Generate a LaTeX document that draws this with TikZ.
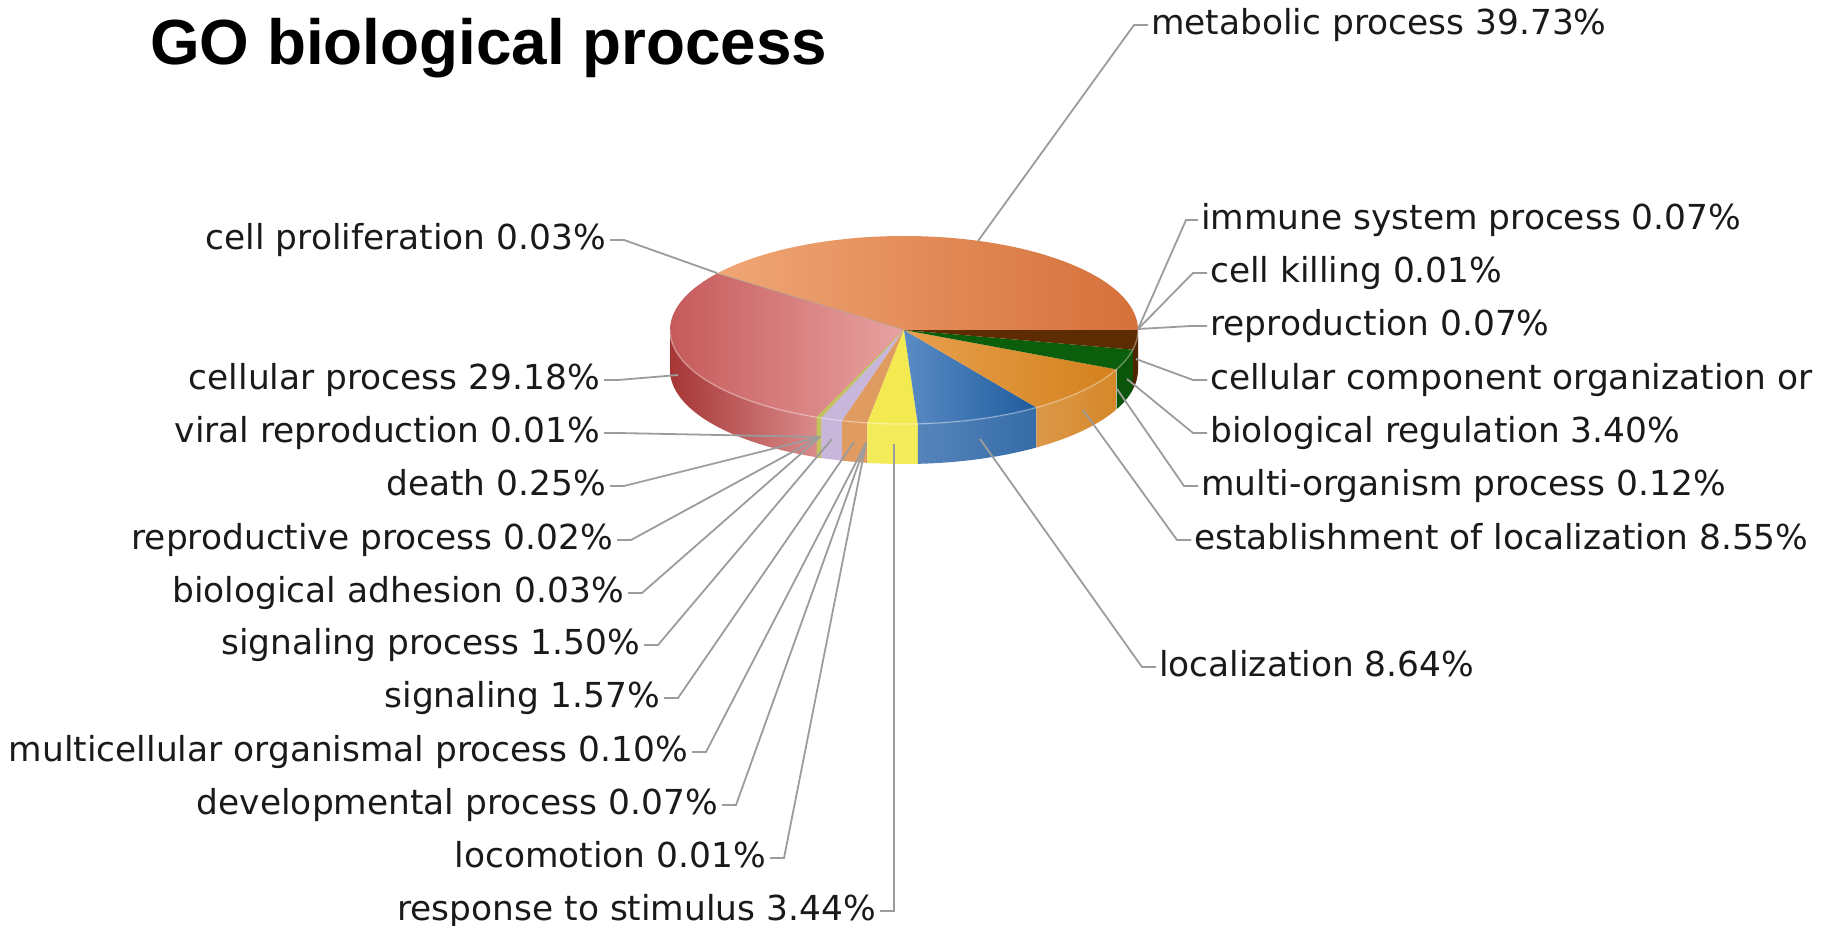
\documentclass[tikz,border=0pt]{standalone}
\usepackage{fontspec}
\setmainfont{DejaVu Sans}
\newfontfamily\titlefont{Liberation Sans}
\usepackage{tikz}
\usetikzlibrary{calc, positioning}
\definecolor{labeltext}{HTML}{1A1A1A}
\definecolor{leadergray}{HTML}{9C9C9C}
\definecolor{metaleft}{HTML}{F0A676}
\definecolor{metamid}{HTML}{F5B88C}
\definecolor{metaright}{HTML}{D5703A}
\definecolor{celltopl}{HTML}{C45656}
\definecolor{celltopr}{HTML}{E9A2A2}
\definecolor{cellsidel}{HTML}{A63636}
\definecolor{cellsider}{HTML}{DA8A8A}
\definecolor{pililac}{HTML}{C9B6DB}
\definecolor{pitan}{HTML}{E09B60}
\definecolor{piyellow}{HTML}{F3EA52}
\definecolor{blueleft}{HTML}{5A8BC4}
\definecolor{blueright}{HTML}{1F5C9E}
\definecolor{orangeleft}{HTML}{E7A04E}
\definecolor{orangeright}{HTML}{D4811C}
\definecolor{pigreen}{HTML}{0B5E0B}
\definecolor{pibrown}{HTML}{5E2C02}
\definecolor{piolive}{HTML}{C2C25E}
\definecolor{pigrey}{HTML}{A8A8A0}

% pie slices, angles counted anticlockwise from east
\newcommand{\topface}[3]{\path[#3] (pc) -- ($(pc)+({234*cos(#1)},{-94*sin(#1)})$)
  arc[start angle=-#1, end angle=-#2, x radius=234, y radius=94] -- cycle;}
\newcommand{\sideface}[3]{\path[#3] ($(pc)+({234*cos(#1)},{-94*sin(#1)})$)
  arc[start angle=-#1, end angle=-#2, x radius=234, y radius=94] -- ++(0,40)
  arc[start angle=-#2, end angle=-#1, x radius=234, y radius=94] -- cycle;}

\begin{document}
\fontsize{34.4}{40}\selectfont
\begin{tikzpicture}[
  x=1pt, y=-1pt,
  lbl/.style={text=labeltext, inner sep=0pt, yshift=-3pt},
  lblr/.style={lbl, anchor=mid west},
  lbll/.style={lbl, anchor=mid east},
  leader/.style={draw=leadergray, line width=1.8pt},
  thin slice/.style={fill=#1, draw=#1, line width=0.8pt}
]
  \useasboundingbox (0,0) rectangle (1829,926);
  \coordinate (pc) at (904,330);

  % Title
  \node[anchor=base west, inner sep=0pt, font=\titlefont\bfseries\fontsize{63.8}{70}\selectfont] (title) at (150,64) {GO biological process};

  % Side faces
  \sideface{180}{248.18}{left color=cellsidel, right color=cellsider}
  \sideface{248.18}{249.29}{thin slice=piolive}
  \sideface{249.29}{254.69}{fill=pililac}
  \sideface{254.69}{260.99}{fill=pitan}
  \sideface{260.99}{273.37}{fill=piyellow!95!white}
  \sideface{273.37}{304.47}{left color=blueleft!95!black, right color=blueright!90!white}
  \sideface{304.47}{335.25}{left color=orangeleft!95!black, right color=orangeright!95!white}
  \sideface{335.25}{347.92}{fill=pigreen!90!black}
  \sideface{347.92}{360}{fill=pibrown!85!black}

  % Top faces
  \topface{0}{143.03}{left color=metaleft, middle color=metamid, right color=metaright}
  \topface{143.03}{143.14}{thin slice=pigrey}
  \topface{143.14}{248.18}{left color=celltopl, right color=celltopr}
  \topface{248.18}{249.29}{thin slice=piolive}
  \topface{249.29}{254.69}{fill=pililac}
  \topface{254.69}{260.99}{fill=pitan}
  \topface{260.99}{273.37}{fill=piyellow}
  \topface{273.37}{304.47}{left color=blueleft, right color=blueright}
  \topface{304.47}{335.25}{left color=orangeleft, right color=orangeright}
  \topface{335.25}{347.92}{fill=pigreen}
  \topface{347.92}{360}{fill=pibrown}
  \draw[white, opacity=0.3, line width=1.5pt] ($(pc)+(-234,0)$) arc[start angle=-180, end angle=-360, x radius=234, y radius=94];

  % Leader ends on the pie
  \coordinate (p-metabolic) at (978,241);
  \coordinate (p-prolif) at (717,273);
  \coordinate (p-cellular) at (678,375);
  \coordinate (p-viral) at (820,437);
  \coordinate (p-sigproc) at (832,439);
  \coordinate (p-signaling) at (854,442);
  \coordinate (p-develop) at (866,443);
  \coordinate (p-response) at (894,444);
  \coordinate (p-localization) at (980,439);
  \coordinate (p-establish) at (1083,410);
  \coordinate (p-multiorg) at (1117,389);
  \coordinate (p-bioreg) at (1127,379);
  \coordinate (p-cellcomp) at (1136,359);
  \coordinate (p-edge) at (1138,329);

  % Labels, right
  \node[lblr] (metabolic) at (1151,22) {metabolic process 39.73\%};
  \node[lblr] (immune) at (1201,217) {immune system process 0.07\%};
  \node[lblr] (killing) at (1210,270) {cell killing 0.01\%};
  \node[lblr] (reproduction) at (1210,323) {reproduction 0.07\%};
  \node[lblr] (cellcomp) at (1210,377) {cellular component organization or};
  \node[lblr] (bioreg) at (1210,430) {biological regulation 3.40\%};
  \node[lblr] (multiorg) at (1201,483) {multi-organism process 0.12\%};
  \node[lblr] (establish) at (1194,537) {establishment of localization 8.55\%};
  \node[lblr] (localization) at (1159,664) {localization 8.64\%};

  % Labels, left
  \node[lbll] (prolif) at (606,237) {cell proliferation 0.03\%};
  \node[lbll] (cellular) at (600,377) {cellular process 29.18\%};
  \node[lbll] (viral) at (600,430) {viral reproduction 0.01\%};
  \node[lbll] (death) at (606,483) {death 0.25\%};
  \node[lbll] (reproductive) at (613,537) {reproductive process 0.02\%};
  \node[lbll] (adhesion) at (624,590) {biological adhesion 0.03\%};
  \node[lbll] (sigproc) at (640,642) {signaling process 1.50\%};
  \node[lbll] (signaling) at (660,695) {signaling 1.57\%};
  \node[lbll] (multicell) at (688,749) {multicellular organismal process 0.10\%};
  \node[lbll] (develop) at (718,802) {developmental process 0.07\%};
  \node[lbll] (locomotion) at (766,855) {locomotion 0.01\%};
  \node[lbll] (response) at (876,908) {response to stimulus 3.44\%};

  % Leaders
  \draw[leader] ([xshift=-3pt]metabolic.mid west) -- ++(-14,0) -- (p-metabolic);
  \draw[leader] ([xshift=-3pt]immune.mid west) -- ++(-12,0) -- (p-edge);
  \draw[leader] ([xshift=-3pt]killing.mid west) -- ++(-14,0) -- (p-edge);
  \draw[leader] ([xshift=-3pt]reproduction.mid west) -- ++(-16,0) -- (p-edge);
  \draw[leader] ([xshift=-3pt]cellcomp.mid west) -- ++(-14,0) -- (p-cellcomp);
  \draw[leader] ([xshift=-3pt]bioreg.mid west) -- ++(-14,0) -- (p-bioreg);
  \draw[leader] ([xshift=-3pt]multiorg.mid west) -- ++(-14,0) -- (p-multiorg);
  \draw[leader] ([xshift=-3pt]establish.mid west) -- ++(-14,0) -- (p-establish);
  \draw[leader] ([xshift=-3pt]localization.mid west) -- ++(-14,0) -- (p-localization);

  \draw[leader] ([xshift=4pt]prolif.mid east) -- ++(14,0) -- (p-prolif);
  \draw[leader] ([xshift=4pt]cellular.mid east) -- ++(14,0) -- (p-cellular);
  \draw[leader] ([xshift=4pt]viral.mid east) -- ++(14,0) -- (p-viral);
  \draw[leader] ([xshift=4pt]death.mid east) -- ++(14,0) -- (p-viral);
  \draw[leader] ([xshift=4pt]reproductive.mid east) -- ++(14,0) -- (p-viral);
  \draw[leader] ([xshift=4pt]adhesion.mid east) -- ++(14,0) -- (p-viral);
  \draw[leader] ([xshift=4pt]sigproc.mid east) -- ++(14,0) -- (p-sigproc);
  \draw[leader] ([xshift=4pt]signaling.mid east) -- ++(14,0) -- (p-signaling);
  \draw[leader] ([xshift=4pt]multicell.mid east) -- ++(14,0) -- (p-develop);
  \draw[leader] ([xshift=4pt]develop.mid east) -- ++(14,0) -- (p-develop);
  \draw[leader] ([xshift=4pt]locomotion.mid east) -- ++(14,0) -- (p-develop);
  \draw[leader] ([xshift=4pt]response.mid east) -- ++(14,0) -- (p-response);
\end{tikzpicture}
\end{document}
